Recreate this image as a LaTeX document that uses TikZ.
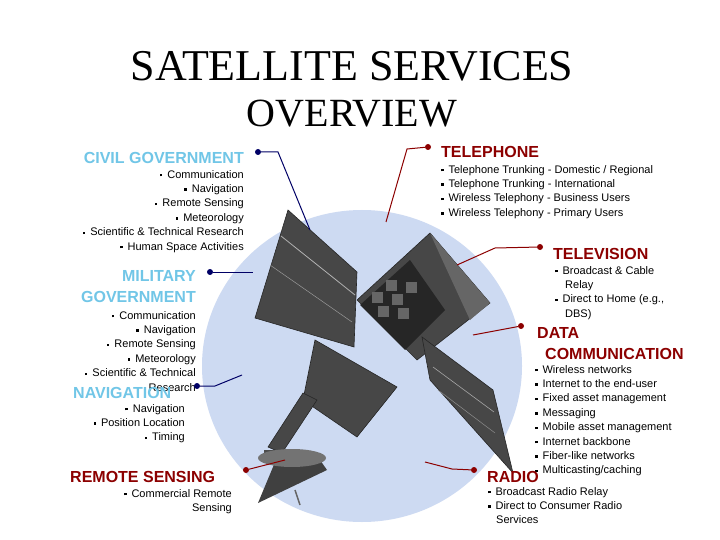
\documentclass[tikz,border=0pt]{standalone}
\usepackage{fontspec}
\setmainfont{Liberation Sans}
\newfontfamily\titlefont{Liberation Serif}
\newcommand{\bu}{\rule[0.3ex]{2.4pt}{2.4pt}\hspace{5pt}}
\definecolor{globe}{RGB}{205,218,242}
\begin{document}
\begin{tikzpicture}[x=1pt,y=-1pt,
  ttl/.style={font=\bfseries\fontsize{16}{17}\selectfont,inner sep=0},
  lt/.style={ttl,text=cyan!75!teal!60!white},
  rt/.style={ttl,text=red!55!black},
  bl/.style={font=\fontsize{11}{14.4}\selectfont,inner sep=0},
  con/.style={line width=1pt},
  bcon/.style={con,draw=blue!40!black},
  rcon/.style={con,draw=red!55!black},
  dot/.style={circle,fill,inner sep=0,minimum size=6pt},
  sat/.style={fill=black!72,draw=black!85,line width=0.6pt}]
\useasboundingbox (0,0) rectangle (720,540);
\fill[white] (0,0) rectangle (720,540);
% globe
\fill[globe] (362,366) ellipse [x radius=160,y radius=156];
% titles
\node[font=\titlefont\fontsize{44}{44}\selectfont] (t1) at (352,66) {SATELLITE SERVICES};
\node[font=\titlefont\fontsize{40}{40}\selectfont] (t2) at (352,114) {OVERVIEW};
% satellite
\fill[sat] (288,210) -- (357,272) -- (354,347) -- (255,318) -- cycle;
\draw[white!70!black,line width=0.8pt] (281,236) -- (355,295);
\draw[white!60!black,line width=0.5pt] (270,265) -- (352,322);
\fill[sat] (315,340) -- (397,387) -- (357,437) -- (303,400) -- cycle;
\fill[sat] (357,300) -- (430,233) -- (490,303) -- (417,360) -- cycle;
\fill[black!85] (360,305) -- (410,260) -- (445,310) -- (405,350) -- cycle;
\foreach \a/\b in {0/0,1/0,0/1,1/1,2/1,1/2}{
  \fill[black!60] ({372+\a*14+\b*6},{292-\a*12+\b*14}) rectangle +(11,11);}
\fill[black!60] (430,233) -- (490,303) -- (470,320) -- (440,255) -- cycle;
\fill[sat] (422,337) -- (493,390) -- (513,473) -- (430,380) -- cycle;
\draw[white!65!black,line width=0.6pt] (433,367) -- (494,412);
\draw[white!55!black,line width=0.5pt] (438,390) -- (495,433);
\fill[sat] (303,393) -- (317,400) -- (282,453) -- (268,447) -- cycle;
\fill[black!70] (264,450) rectangle (276,462);
\fill[black!75] (258,503) -- (278,455) -- (320,460) -- (327,470) -- cycle;
\fill[black!55] (292,458) ellipse [x radius=34,y radius=9];
\draw[black!60,line width=1.5pt] (295,490) -- (300,505);
% left texts
\node[lt,anchor=east] (cg) at (244,158) {CIVIL GOVERNMENT};
\node[bl,anchor=north east,align=right] (cgb) at (244,170) {\bu Communication\\\bu Navigation\\\bu Remote Sensing\\\bu Meteorology\\\bu Scientific \& Technical Research\\\bu Human Space Activities};
\node[lt,anchor=north east,align=right,font=\bfseries\fontsize{16}{21}\selectfont] (mg) at (196,270) {MILITARY\\GOVERNMENT};
\node[bl,anchor=north east,align=right] (mgb) at (196,311) {\bu Communication\\\bu Navigation\\\bu Remote Sensing\\\bu Meteorology\\\bu Scientific \& Technical\\Research};
\node[lt,anchor=west] (nv) at (73,393) {NAVIGATION};
\node[bl,anchor=north east,align=right] (nvb) at (185,404) {\bu Navigation\\\bu Position Location\\\bu Timing};
\node[rt,anchor=west] (rs) at (70,477) {REMOTE SENSING};
\node[bl,anchor=north east,align=right] (rsb) at (232,489) {\bu Commercial Remote\\Sensing};
% right texts
\node[rt,anchor=west] (tp) at (441,152) {TELEPHONE};
\node[bl,anchor=north west,align=left] (tpb) at (441,165) {\bu Telephone Trunking - Domestic / Regional\\\bu Telephone Trunking - International\\\bu Wireless Telephony - Business Users\\\bu Wireless Telephony - Primary Users};
\node[rt,anchor=west] (tv) at (553,254) {TELEVISION};
\node[bl,anchor=north west,align=left] (tvb) at (555,266) {\bu Broadcast \& Cable\\\hspace*{10pt}Relay\\\bu Direct to Home (e.g.,\\\hspace*{10pt}DBS)};
\node[rt,anchor=west] (dc1) at (537,333) {DATA};
\node[rt,anchor=west] (dc2) at (545,354) {COMMUNICATION};
\node[bl,anchor=north west,align=left] (dcb) at (535,365) {\bu Wireless networks\\\bu Internet to the end-user\\\bu Fixed asset management\\\bu Messaging\\\bu Mobile asset management\\\bu Internet backbone\\\bu Fiber-like networks\\\bu Multicasting/caching};
\node[rt,anchor=west] (rd) at (487,477) {RADIO};
\node[bl,anchor=north west,align=left] (rdb) at (488,487) {\bu Broadcast Radio Relay\\\bu Direct to Consumer Radio\\\hspace*{8pt}Services};
% connectors
\node[dot,blue!40!black] (d1) at (258,152) {};
\coordinate (e1) at (310,230);
\draw[bcon] (d1) -- (278,152) -- (e1);
\node[dot,blue!40!black] (d2) at (210,272) {};
\coordinate (e2) at (253,272);
\draw[bcon] (d2) -- (e2);
\node[dot,blue!40!black] (d3) at (197,386) {};
\coordinate (e3) at (242,375);
\draw[bcon] (d3) -- (215,386) -- (e3);
\node[dot,red!55!black] (d4) at (246,470) {};
\coordinate (e4) at (285,460);
\draw[rcon] (d4) -- (e4);
\node[dot,red!55!black] (d5) at (428,147) {};
\coordinate (e5) at (386,222);
\draw[rcon] (d5) -- (407,149) -- (e5);
\node[dot,red!55!black] (d6) at (540,247) {};
\coordinate (e6) at (457,265);
\draw[rcon] (d6) -- (495,248) -- (e6);
\node[dot,red!55!black] (d7) at (521,326) {};
\coordinate (e7) at (473,335);
\draw[rcon] (d7) -- (e7);
\node[dot,red!55!black] (d8) at (474,470) {};
\coordinate (e8) at (425,462);
\draw[rcon] (d8) -- (452,469) -- (e8);
\end{tikzpicture}
\end{document}
